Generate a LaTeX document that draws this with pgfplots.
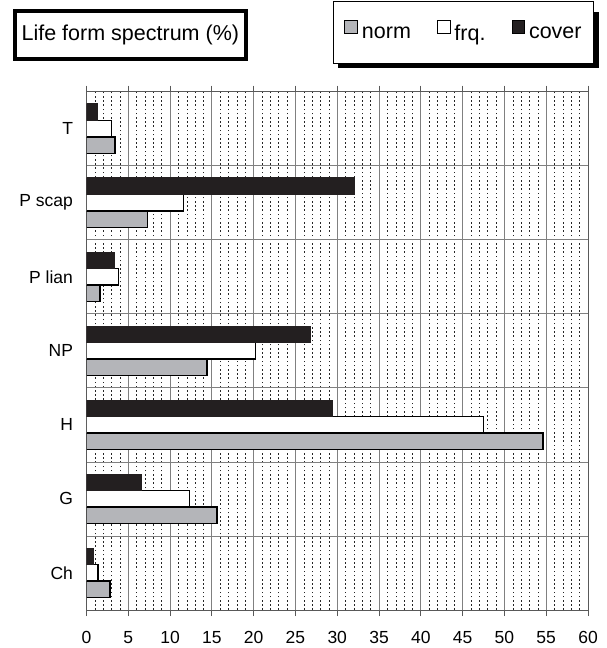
\documentclass[border=0pt]{standalone}
\usepackage{pgfplots}
\pgfplotsset{compat=1.18}
\usepackage{fontspec}
\setmainfont{Liberation Sans}
\definecolor{normgray}{RGB}{180,181,185}
\definecolor{coverblack}{RGB}{35,31,32}
\begin{document}
\begin{tikzpicture}[x=1pt,y=1pt]
\useasboundingbox (0,0) rectangle (606,648);
% title box
\node[draw=black, line width=4pt, fill=white, minimum width=231.3pt, minimum height=47.7pt, inner sep=0pt,
      font=\fontsize{21.5}{24}\selectfont] at (130.35,612.85) {Life form spectrum (\%)};
% shadow of the legend box
\fill[black] (338.3,580.2) rectangle (598.5,636.2);
\begin{axis}[
  at={(86.5pt,38pt)}, anchor=south west,
  scale only axis, width=501.5pt, height=518.3pt,
  xbar,
  xmin=0, xmax=60, ymin=-0.5, ymax=6.5,
  xtick distance=5, minor x tick num=4,
  xmajorgrids, xminorgrids,
  major grid style={gray, line width=0.8pt},
  minor grid style={black!85, line width=0.5pt, dash pattern=on 1.6pt off 2.6pt},
  minor tick length=0pt,
  major tick length=6pt,
  tick align=outside,
  x tick style={gray!70!black, line width=0.8pt},
  ytick={0,...,6},
  yticklabels={Ch,G,H,NP,P lian,P scap,T},
  y tick style={draw=none},
  extra y ticks={0.5,1.5,2.5,3.5,4.5,5.5},
  extra y tick labels={},
  extra y tick style={ymajorgrids, major grid style={gray, line width=0.8pt}, y tick style={draw=none}},
  axis line style={draw=gray!70!black, line width=0.8pt},
  tick label style={font=\fontsize{17.5}{20}\selectfont},
  xticklabel style={inner sep=1pt, yshift=-14pt},
  yticklabel style={xshift=-4pt},
  /pgf/number format/assume math mode=true,
  bar width=0.223,
  legend columns=3,
  legend style={at={(axis description cs:1,1)}, anchor=south east, xshift=6pt, yshift=28.4pt,
    draw=black, line width=0.8pt, fill=white,
    font=\fontsize{21.5}{24}\selectfont,
    inner xsep=11pt, inner ysep=19.5pt,
    nodes={inner sep=1pt},
    /tikz/every odd column/.append style={column sep=3pt},
    /tikz/every even column/.append style={column sep=25pt}},
  legend cell align=left,
]
\pgfplotsset{sqlegend/.style={legend image code/.code={\draw[##1, draw=black, line width=0.8pt] (0pt,0.3pt) rectangle (12.7pt,13pt);}}}
\addplot[fill=normgray, draw=black, line width=1.5pt, bar shift=-0.223, sqlegend] coordinates {
  (2.8,0) (15.6,1) (54.6,2) (14.4,3) (1.6,4) (7.3,5) (3.4,6)};
\addlegendentry{norm}
\addplot[fill=white, draw=black, line width=1.5pt, bar shift=0, sqlegend] coordinates {
  (1.4,0) (12.3,1) (47.5,2) (20.2,3) (3.8,4) (11.6,5) (3.0,6)};
\addlegendentry{frq.}
\addplot[fill=coverblack, draw=coverblack, line width=1pt, bar shift=0.223, sqlegend] coordinates {
  (0.8,0) (6.6,1) (29.4,2) (26.8,3) (3.4,4) (32.1,5) (1.3,6)};
\addlegendentry{cover}
\end{axis}
\end{tikzpicture}
\end{document}
